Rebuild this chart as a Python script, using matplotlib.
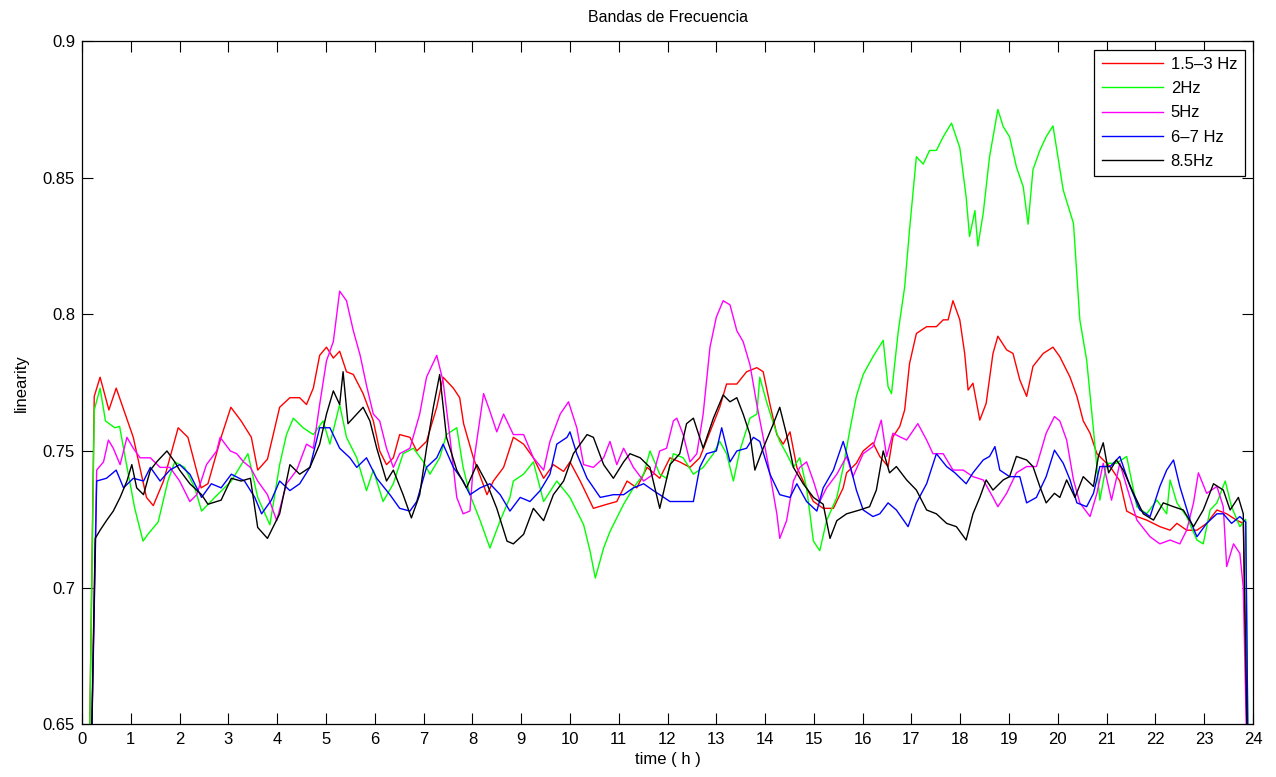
import numpy as np
import matplotlib
matplotlib.use('Agg')
from matplotlib import pyplot as plt

plt.rcParams['font.family'] = ['Liberation Sans', 'DejaVu Sans']

# values (hours, linearity)
red_t = [0.12, 0.25, 0.37, 0.55, 0.70, 1.05, 1.32, 1.46, 1.67, 1.97, 2.17, 2.44, 2.58, 2.85, 3.05, 3.26, 3.47, 3.6, 3.8, 4.05,
         4.26, 4.46, 4.6, 4.74, 4.87, 5.01, 5.15, 5.28, 5.42, 5.56, 5.76, 5.97, 6.1, 6.24, 6.38, 6.51, 6.72, 6.86, 7.06, 7.27,
         7.4, 7.61, 7.74, 7.82, 8.02, 8.3, 8.43, 8.64, 8.84, 9.05, 9.25, 9.46, 9.66, 9.87, 10.0, 10.21, 10.48, 10.76, 10.96, 11.17,
         11.37, 11.58, 11.84, 12.05, 12.25, 12.46, 12.66, 12.87, 13.07, 13.21, 13.42, 13.62, 13.83, 13.96, 14.1, 14.24, 14.37, 14.51, 14.65, 14.78,
         14.99, 15.19, 15.4, 15.6, 15.67, 15.87, 16.01, 16.21, 16.35, 16.52, 16.62, 16.76, 16.86, 16.96, 17.1, 17.31, 17.51, 17.65, 17.75, 17.85,
         17.99, 18.09, 18.16, 18.26, 18.4, 18.53, 18.67, 18.77, 18.95, 19.08, 19.22, 19.36, 19.49, 19.7, 19.9, 20.04, 20.25, 20.39, 20.52, 20.66,
         20.8, 20.93, 21.07, 21.27, 21.41, 21.62, 21.82, 22.09, 22.3, 22.44, 22.64, 22.85, 23.05, 23.26, 23.46, 23.66, 23.8, 23.92]
red_v = [0.60, 0.770, 0.777, 0.765, 0.773, 0.755, 0.733, 0.730, 0.739, 0.7585, 0.755, 0.7365, 0.738, 0.755, 0.766, 0.761, 0.755, 0.743, 0.747, 0.766,
         0.7695, 0.7695, 0.767, 0.773, 0.785, 0.788, 0.784, 0.7865, 0.779, 0.778, 0.771, 0.761, 0.750, 0.745, 0.7475, 0.756, 0.755, 0.750, 0.7535, 0.766,
         0.777, 0.773, 0.7695, 0.760, 0.7475, 0.734, 0.739, 0.744, 0.755, 0.7525, 0.7475, 0.740, 0.745, 0.7425, 0.746, 0.739, 0.729, 0.7305, 0.7315, 0.739,
         0.7365, 0.744, 0.740, 0.7475, 0.746, 0.744, 0.7475, 0.757, 0.766, 0.7745, 0.7745, 0.779, 0.7805, 0.779, 0.767, 0.756, 0.7525, 0.757, 0.744, 0.739,
         0.7315, 0.729, 0.729, 0.7365, 0.742, 0.7455, 0.750, 0.753, 0.748, 0.7443, 0.7552, 0.759, 0.765, 0.782, 0.793, 0.7955, 0.7955, 0.798, 0.798, 0.805,
         0.798, 0.7857, 0.7723, 0.7748, 0.7613, 0.7674, 0.7857, 0.792, 0.787, 0.7857, 0.776, 0.770, 0.781, 0.7857, 0.788, 0.7845, 0.777, 0.770, 0.761, 0.7565,
         0.749, 0.7467, 0.7443, 0.739, 0.728, 0.726, 0.7247, 0.7223, 0.721, 0.7235, 0.721, 0.721, 0.7235, 0.7284, 0.727, 0.7247, 0.7235, 0.60]

green_t = [0.12, 0.25, 0.37, 0.48, 0.67, 0.77, 0.87, 1.08, 1.25, 1.35, 1.56, 1.76, 1.9, 2.1, 2.31, 2.45, 2.72, 3.06, 3.4, 3.6,
           3.85, 4.05, 4.19, 4.33, 4.53, 4.74, 4.94, 5.08, 5.28, 5.42, 5.63, 5.83, 5.97, 6.17, 6.38, 6.58, 6.79, 7.0, 7.13, 7.33,
           7.47, 7.68, 7.81, 7.95, 8.16, 8.36, 8.57, 8.77, 8.84, 9.05, 9.25, 9.46, 9.73, 10.0, 10.28, 10.41, 10.52, 10.69, 10.82, 10.96,
           11.1, 11.3, 11.51, 11.64, 11.84, 11.98, 12.12, 12.32, 12.53, 12.73, 12.94, 13.07, 13.21, 13.35, 13.48, 13.69, 13.83, 13.89, 14.03, 14.17,
           14.3, 14.44, 14.58, 14.71, 14.85, 14.99, 15.12, 15.26, 15.47, 15.6, 15.74, 15.87, 16.01, 16.21, 16.42, 16.52, 16.59, 16.73, 16.86, 16.96,
           17.1, 17.24, 17.37, 17.51, 17.65, 17.82, 17.99, 18.12, 18.19, 18.3, 18.36, 18.47, 18.6, 18.77, 18.88, 19.01, 19.15, 19.29, 19.39, 19.49,
           19.63, 19.76, 19.9, 20.11, 20.32, 20.45, 20.59, 20.73, 20.86, 21.0, 21.2, 21.41, 21.62, 21.82, 22.03, 22.23, 22.3, 22.44, 22.64, 22.85,
           22.98, 23.12, 23.26, 23.43, 23.56, 23.73, 23.85, 23.92]
green_v = [0.60, 0.765, 0.773, 0.761, 0.7585, 0.759, 0.749, 0.729, 0.717, 0.7195, 0.724, 0.739, 0.746, 0.744, 0.7365, 0.728, 0.733, 0.739, 0.749, 0.733,
           0.723, 0.745, 0.756, 0.762, 0.7585, 0.756, 0.761, 0.7525, 0.767, 0.755, 0.7475, 0.7355, 0.743, 0.7315, 0.738, 0.749, 0.751, 0.746, 0.7415, 0.7475,
           0.756, 0.7585, 0.744, 0.734, 0.7245, 0.7145, 0.7245, 0.733, 0.739, 0.7415, 0.746, 0.7315, 0.739, 0.733, 0.723, 0.7135, 0.7035, 0.7145, 0.7205, 0.7255,
           0.7305, 0.7365, 0.7415, 0.750, 0.7415, 0.740, 0.749, 0.7475, 0.7415, 0.744, 0.749, 0.7535, 0.749, 0.739, 0.750, 0.762, 0.7635, 0.777, 0.768, 0.760,
           0.7535, 0.749, 0.744, 0.7475, 0.7365, 0.717, 0.7135, 0.7245, 0.733, 0.744, 0.758, 0.770, 0.778, 0.7845, 0.7905, 0.7735, 0.771, 0.794, 0.810, 0.831,
           0.8577, 0.855, 0.860, 0.860, 0.865, 0.870, 0.861, 0.843, 0.8285, 0.838, 0.825, 0.837, 0.8577, 0.875, 0.8687, 0.865, 0.854, 0.8467, 0.833, 0.853,
           0.860, 0.865, 0.869, 0.8455, 0.8333, 0.798, 0.7833, 0.7577, 0.732, 0.7455, 0.7455, 0.748, 0.7296, 0.727, 0.732, 0.727, 0.7394, 0.731, 0.726, 0.7174,
           0.716, 0.7284, 0.731, 0.739, 0.7296, 0.7223, 0.725, 0.60]

mag_t = [0.15, 0.3, 0.44, 0.54, 0.64, 0.78, 0.92, 1.05, 1.19, 1.4, 1.6, 1.8, 2.0, 2.21, 2.35, 2.55, 2.76, 2.83, 3.04, 3.17,
         3.31, 3.45, 3.6, 3.8, 3.99, 4.19, 4.4, 4.6, 4.74, 4.87, 5.01, 5.15, 5.28, 5.42, 5.56, 5.7, 5.83, 5.97, 6.1, 6.24,
         6.38, 6.51, 6.72, 6.92, 7.06, 7.27, 7.4, 7.54, 7.68, 7.81, 7.95, 8.02, 8.23, 8.36, 8.5, 8.64, 8.84, 9.05, 9.25, 9.46,
         9.59, 9.8, 9.97, 10.14, 10.28, 10.48, 10.69, 10.82, 10.96, 11.1, 11.3, 11.51, 11.71, 11.84, 11.98, 12.12, 12.19, 12.32, 12.46, 12.6,
         12.73, 12.87, 13.0, 13.14, 13.28, 13.42, 13.55, 13.69, 13.83, 13.96, 14.1, 14.24, 14.3, 14.44, 14.58, 14.71, 14.85, 14.99, 15.12, 15.26,
         15.47, 15.67, 15.8, 16.01, 16.21, 16.38, 16.49, 16.62, 16.76, 16.9, 17.13, 17.31, 17.44, 17.65, 17.85, 18.06, 18.26, 18.47, 18.67, 18.77,
         18.95, 19.15, 19.36, 19.56, 19.76, 19.93, 20.04, 20.18, 20.32, 20.45, 20.66, 20.8, 20.93, 21.1, 21.27, 21.41, 21.62, 21.89, 22.09, 22.3,
         22.5, 22.64, 22.78, 22.88, 23.05, 23.26, 23.39, 23.46, 23.6, 23.73, 23.8, 23.92]
mag_v = [0.60, 0.743, 0.746, 0.754, 0.751, 0.745, 0.755, 0.751, 0.7475, 0.7475, 0.744, 0.744, 0.739, 0.7315, 0.734, 0.745, 0.750, 0.755, 0.750, 0.749,
         0.746, 0.744, 0.739, 0.734, 0.7245, 0.738, 0.743, 0.7525, 0.751, 0.767, 0.783, 0.790, 0.8085, 0.805, 0.794, 0.785, 0.774, 0.7635, 0.761, 0.751,
         0.744, 0.749, 0.751, 0.7635, 0.777, 0.785, 0.7755, 0.755, 0.733, 0.727, 0.728, 0.745, 0.771, 0.7645, 0.757, 0.7635, 0.756, 0.756, 0.7475, 0.743,
         0.7535, 0.7635, 0.768, 0.7585, 0.745, 0.744, 0.7475, 0.7535, 0.745, 0.751, 0.744, 0.739, 0.7415, 0.750, 0.751, 0.761, 0.762, 0.756, 0.746, 0.749,
         0.7635, 0.788, 0.799, 0.805, 0.8035, 0.794, 0.790, 0.7815, 0.767, 0.755, 0.7415, 0.727, 0.718, 0.7245, 0.739, 0.744, 0.746, 0.739, 0.7315, 0.7365,
         0.7415, 0.748, 0.7406, 0.749, 0.7516, 0.7613, 0.748, 0.7565, 0.7552, 0.754, 0.760, 0.754, 0.749, 0.749, 0.743, 0.743, 0.7406, 0.7394, 0.733, 0.7296,
         0.7345, 0.742, 0.7443, 0.7443, 0.7565, 0.7626, 0.761, 0.754, 0.7394, 0.731, 0.726, 0.7345, 0.7455, 0.732, 0.7455, 0.737, 0.7247, 0.7186, 0.716, 0.7174,
         0.716, 0.721, 0.731, 0.742, 0.7345, 0.737, 0.7296, 0.7077, 0.716, 0.7125, 0.700, 0.60]

blue_t = [0.15, 0.3, 0.5, 0.7, 0.85, 1.05, 1.26, 1.4, 1.6, 1.8, 2.0, 2.21, 2.45, 2.65, 2.85, 3.06, 3.33, 3.54, 3.68, 3.88,
          4.05, 4.26, 4.46, 4.67, 4.87, 5.08, 5.28, 5.49, 5.63, 5.83, 6.04, 6.31, 6.51, 6.72, 6.86, 7.06, 7.27, 7.4, 7.61, 7.81,
          7.95, 8.16, 8.36, 8.57, 8.77, 8.98, 9.18, 9.39, 9.59, 9.73, 9.94, 10.0, 10.14, 10.35, 10.62, 10.89, 11.1, 11.3, 11.51, 11.71,
          11.84, 12.05, 12.25, 12.53, 12.66, 12.8, 13.0, 13.11, 13.28, 13.42, 13.62, 13.76, 13.89, 14.1, 14.3, 14.51, 14.65, 14.85, 15.06, 15.19,
          15.4, 15.6, 15.73, 15.87, 16.01, 16.21, 16.35, 16.52, 16.69, 16.93, 17.1, 17.31, 17.51, 17.72, 17.89, 18.12, 18.26, 18.47, 18.6, 18.71,
          18.81, 19.01, 19.22, 19.36, 19.56, 19.76, 19.93, 20.11, 20.25, 20.39, 20.59, 20.73, 20.86, 21.07, 21.27, 21.48, 21.68, 21.89, 22.09, 22.23,
          22.37, 22.5, 22.71, 22.85, 23.05, 23.26, 23.39, 23.56, 23.73, 23.85, 23.92]
blue_v = [0.60, 0.739, 0.740, 0.743, 0.7365, 0.740, 0.739, 0.744, 0.739, 0.743, 0.745, 0.7415, 0.733, 0.738, 0.7365, 0.7415, 0.739, 0.733, 0.727, 0.732,
          0.739, 0.7355, 0.738, 0.744, 0.7585, 0.7585, 0.751, 0.7475, 0.744, 0.7475, 0.740, 0.734, 0.729, 0.728, 0.7315, 0.744, 0.7475, 0.7525, 0.744, 0.739,
          0.734, 0.7365, 0.738, 0.734, 0.728, 0.733, 0.7315, 0.7355, 0.7415, 0.7525, 0.755, 0.757, 0.749, 0.740, 0.733, 0.734, 0.734, 0.7365, 0.738, 0.7355,
          0.734, 0.7315, 0.7315, 0.7315, 0.744, 0.749, 0.750, 0.7585, 0.746, 0.750, 0.751, 0.755, 0.7535, 0.7415, 0.734, 0.733, 0.738, 0.7315, 0.728, 0.7365,
          0.743, 0.7535, 0.7455, 0.7357, 0.7284, 0.726, 0.727, 0.731, 0.7284, 0.7223, 0.731, 0.738, 0.749, 0.7443, 0.742, 0.738, 0.742, 0.7467, 0.748, 0.7516,
          0.743, 0.7406, 0.7406, 0.731, 0.733, 0.7406, 0.7503, 0.7455, 0.7394, 0.731, 0.7296, 0.7345, 0.7443, 0.7443, 0.748, 0.737, 0.7284, 0.726, 0.737, 0.743,
          0.7467, 0.737, 0.7247, 0.7186, 0.7235, 0.727, 0.727, 0.7235, 0.726, 0.724, 0.60]

black_t = [0.15, 0.27, 0.37, 0.5, 0.64, 0.78, 0.92, 1.02, 1.12, 1.26, 1.4, 1.53, 1.74, 1.9, 2.0, 2.21, 2.45, 2.58, 2.85, 3.06,
           3.26, 3.45, 3.6, 3.8, 4.05, 4.26, 4.46, 4.67, 4.87, 5.01, 5.15, 5.28, 5.35, 5.45, 5.63, 5.76, 5.9, 6.04, 6.24, 6.38,
           6.58, 6.75, 6.92, 7.06, 7.2, 7.33, 7.47, 7.68, 7.88, 8.09, 8.3, 8.5, 8.71, 8.84, 9.05, 9.25, 9.46, 9.66, 9.87, 10.07,
           10.35, 10.48, 10.69, 10.89, 11.1, 11.23, 11.44, 11.64, 11.84, 12.05, 12.25, 12.39, 12.53, 12.73, 12.94, 13.14, 13.28, 13.42, 13.55, 13.69,
           13.79, 13.96, 14.17, 14.3, 14.44, 14.58, 14.78, 14.99, 15.19, 15.33, 15.47, 15.67, 15.94, 16.14, 16.28, 16.42, 16.55, 16.69, 16.9, 17.1,
           17.31, 17.51, 17.72, 17.92, 18.12, 18.26, 18.4, 18.53, 18.67, 18.88, 19.01, 19.15, 19.36, 19.49, 19.63, 19.76, 19.93, 20.04, 20.18, 20.35,
           20.52, 20.73, 20.83, 20.93, 21.04, 21.2, 21.34, 21.55, 21.75, 21.96, 22.16, 22.37, 22.57, 22.78, 22.98, 23.19, 23.39, 23.53, 23.7, 23.8,
           23.92]
black_v = [0.60, 0.718, 0.721, 0.7245, 0.728, 0.733, 0.739, 0.745, 0.7365, 0.734, 0.743, 0.746, 0.750, 0.746, 0.743, 0.738, 0.734, 0.7305, 0.732, 0.740,
           0.739, 0.740, 0.722, 0.718, 0.727, 0.745, 0.7415, 0.744, 0.7525, 0.7635, 0.772, 0.767, 0.779, 0.760, 0.7635, 0.766, 0.761, 0.751, 0.739, 0.743,
           0.734, 0.7255, 0.734, 0.751, 0.766, 0.778, 0.755, 0.743, 0.7365, 0.745, 0.738, 0.729, 0.717, 0.716, 0.7195, 0.729, 0.7245, 0.734, 0.739, 0.749,
           0.756, 0.755, 0.745, 0.740, 0.746, 0.749, 0.7475, 0.744, 0.729, 0.745, 0.749, 0.760, 0.762, 0.751, 0.762, 0.7705, 0.768, 0.7695, 0.7635, 0.756,
           0.743, 0.751, 0.760, 0.766, 0.756, 0.744, 0.738, 0.733, 0.7305, 0.718, 0.7245, 0.727, 0.7284, 0.7296, 0.7357, 0.750, 0.742, 0.7443, 0.7394, 0.7357,
           0.7284, 0.727, 0.7235, 0.7223, 0.7174, 0.727, 0.733, 0.7394, 0.7357, 0.7394, 0.7406, 0.748, 0.7467, 0.7443, 0.737, 0.731, 0.7345, 0.733, 0.7394, 0.733,
           0.7406, 0.737, 0.748, 0.753, 0.742, 0.7467, 0.743, 0.7345, 0.727, 0.7247, 0.731, 0.7296, 0.7284, 0.7223, 0.7284, 0.738, 0.7357, 0.7284, 0.733, 0.727,
           0.60]

labels = ['1.5\u20133 Hz', '2Hz', '5Hz', '6\u20137 Hz', '8.5Hz']
colores = ['#ff0000', '#00ff00', '#ff00ff', '#0000ff', '#000000']

fig = plt.figure(figsize=(12.76, 7.77), dpi=100)
ax = fig.add_axes([0.0643, 0.068, 0.9177, 0.879])

series = [(red_t, red_v), (green_t, green_v), (mag_t, mag_v), (blue_t, blue_v), (black_t, black_v)]
for (t, v), c, lab in zip(series, colores, labels):
    ax.plot(t, v, color=c, lw=1.0, label=lab)

ax.set_xlim(0, 24)
ax.set_ylim(0.65, 0.9)
ax.set_xticks(np.arange(0, 25, 1))
ax.set_yticks([0.65, 0.7, 0.75, 0.8, 0.85, 0.9])
ax.set_yticklabels(['0.65', '0.7', '0.75', '0.8', '0.85', '0.9'])
ax.tick_params(direction='in', top=True, right=True, length=8, labelsize=12, width=0.8)
ax.tick_params(axis='x', pad=6)
ax.tick_params(axis='y', pad=5)
for s in ax.spines.values():
    s.set_linewidth(0.9)

ax.set_title('Bandas de Frecuencia', fontsize=11.5, pad=14)
ax.set_xlabel('time ( h )', fontsize=12, labelpad=3)
ax.set_ylabel('linearity', fontsize=12, labelpad=10)

leg = ax.legend(loc='upper right', fontsize=12, fancybox=False, edgecolor='black',
                framealpha=1, handlelength=3.7, handletextpad=0.45, borderaxespad=0.5,
                labelspacing=0.55, borderpad=0.45)
leg.get_frame().set_linewidth(0.9)

fig.savefig('out.png', dpi=100)
